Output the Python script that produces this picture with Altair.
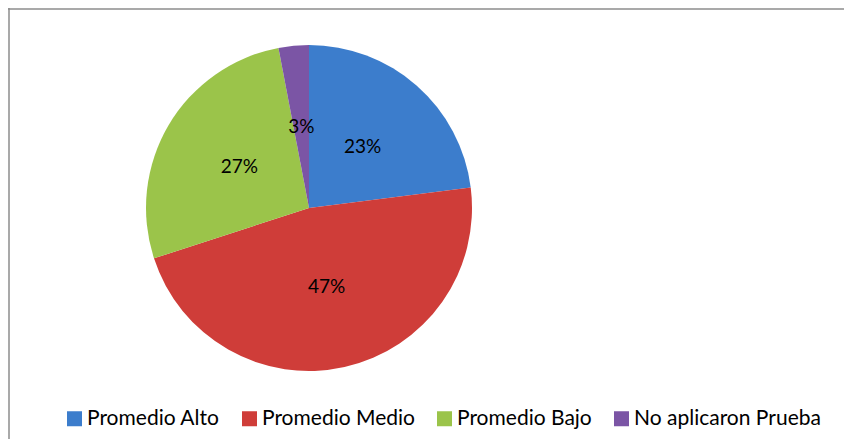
import altair as alt
import pandas as pd

categories = ["Promedio Alto", "Promedio Medio", "Promedio Bajo", "No aplicaron Prueba"]
values = [23, 47, 27, 3]
labels = ["23%", "47%", "27%", "3%"]
colors = ["#3c7dcc", "#cf3d39", "#9bc44a", "#7b55a5"]

df = pd.DataFrame({"cat": categories, "val": values, "lab": labels, "ord": list(range(len(categories)))})

W, H = 836, 431
CX, CY = 301, 200
R = 163
FONT = "Lato"

base = alt.Chart(df).encode(
    theta=alt.Theta("val:Q", stack=True),
    order=alt.Order("ord:Q"),
)

pie = base.mark_arc(outerRadius=R).encode(
    color=alt.Color(
        "cat:N",
        sort=categories,
        scale=alt.Scale(domain=categories, range=colors),
        legend=alt.Legend(
            title=None,
            orient="none",
            direction="horizontal",
            legendX=56,
            legendY=400,
            symbolType="square",
            symbolSize=225,
            symbolStrokeWidth=0,
            labelFont=FONT,
            labelFontSize=21,
            labelColor="#000000",
            labelLimit=0,
            columnPadding=19,
            labelOffset=2,
        ),
    ),
    x=alt.value(CX),
    y=alt.value(CY),
)

text = base.mark_text(radius=81, fontSize=19, font=FONT, color="#000000").encode(
    text="lab:N",
    x=alt.value(CX),
    y=alt.value(CY),
)

frame_df = pd.DataFrame({"a": [0]})
top = alt.Chart(frame_df).mark_rule(color="#8c8c8c", strokeWidth=1.5).encode(
    x=alt.value(0), x2=alt.value(W + 10), y=alt.value(1)
)
left = alt.Chart(frame_df).mark_rule(color="#8c8c8c", strokeWidth=1.5).encode(
    x=alt.value(1), y=alt.value(0), y2=alt.value(H + 10)
)

chart = alt.layer(pie, text, top, left).properties(
    width=W, height=H, padding=0, autosize=alt.AutoSizeParams(type="none")
).configure_view(stroke=None)

chart.save("out.html", embed_options={"renderer": "svg", "actions": False})
